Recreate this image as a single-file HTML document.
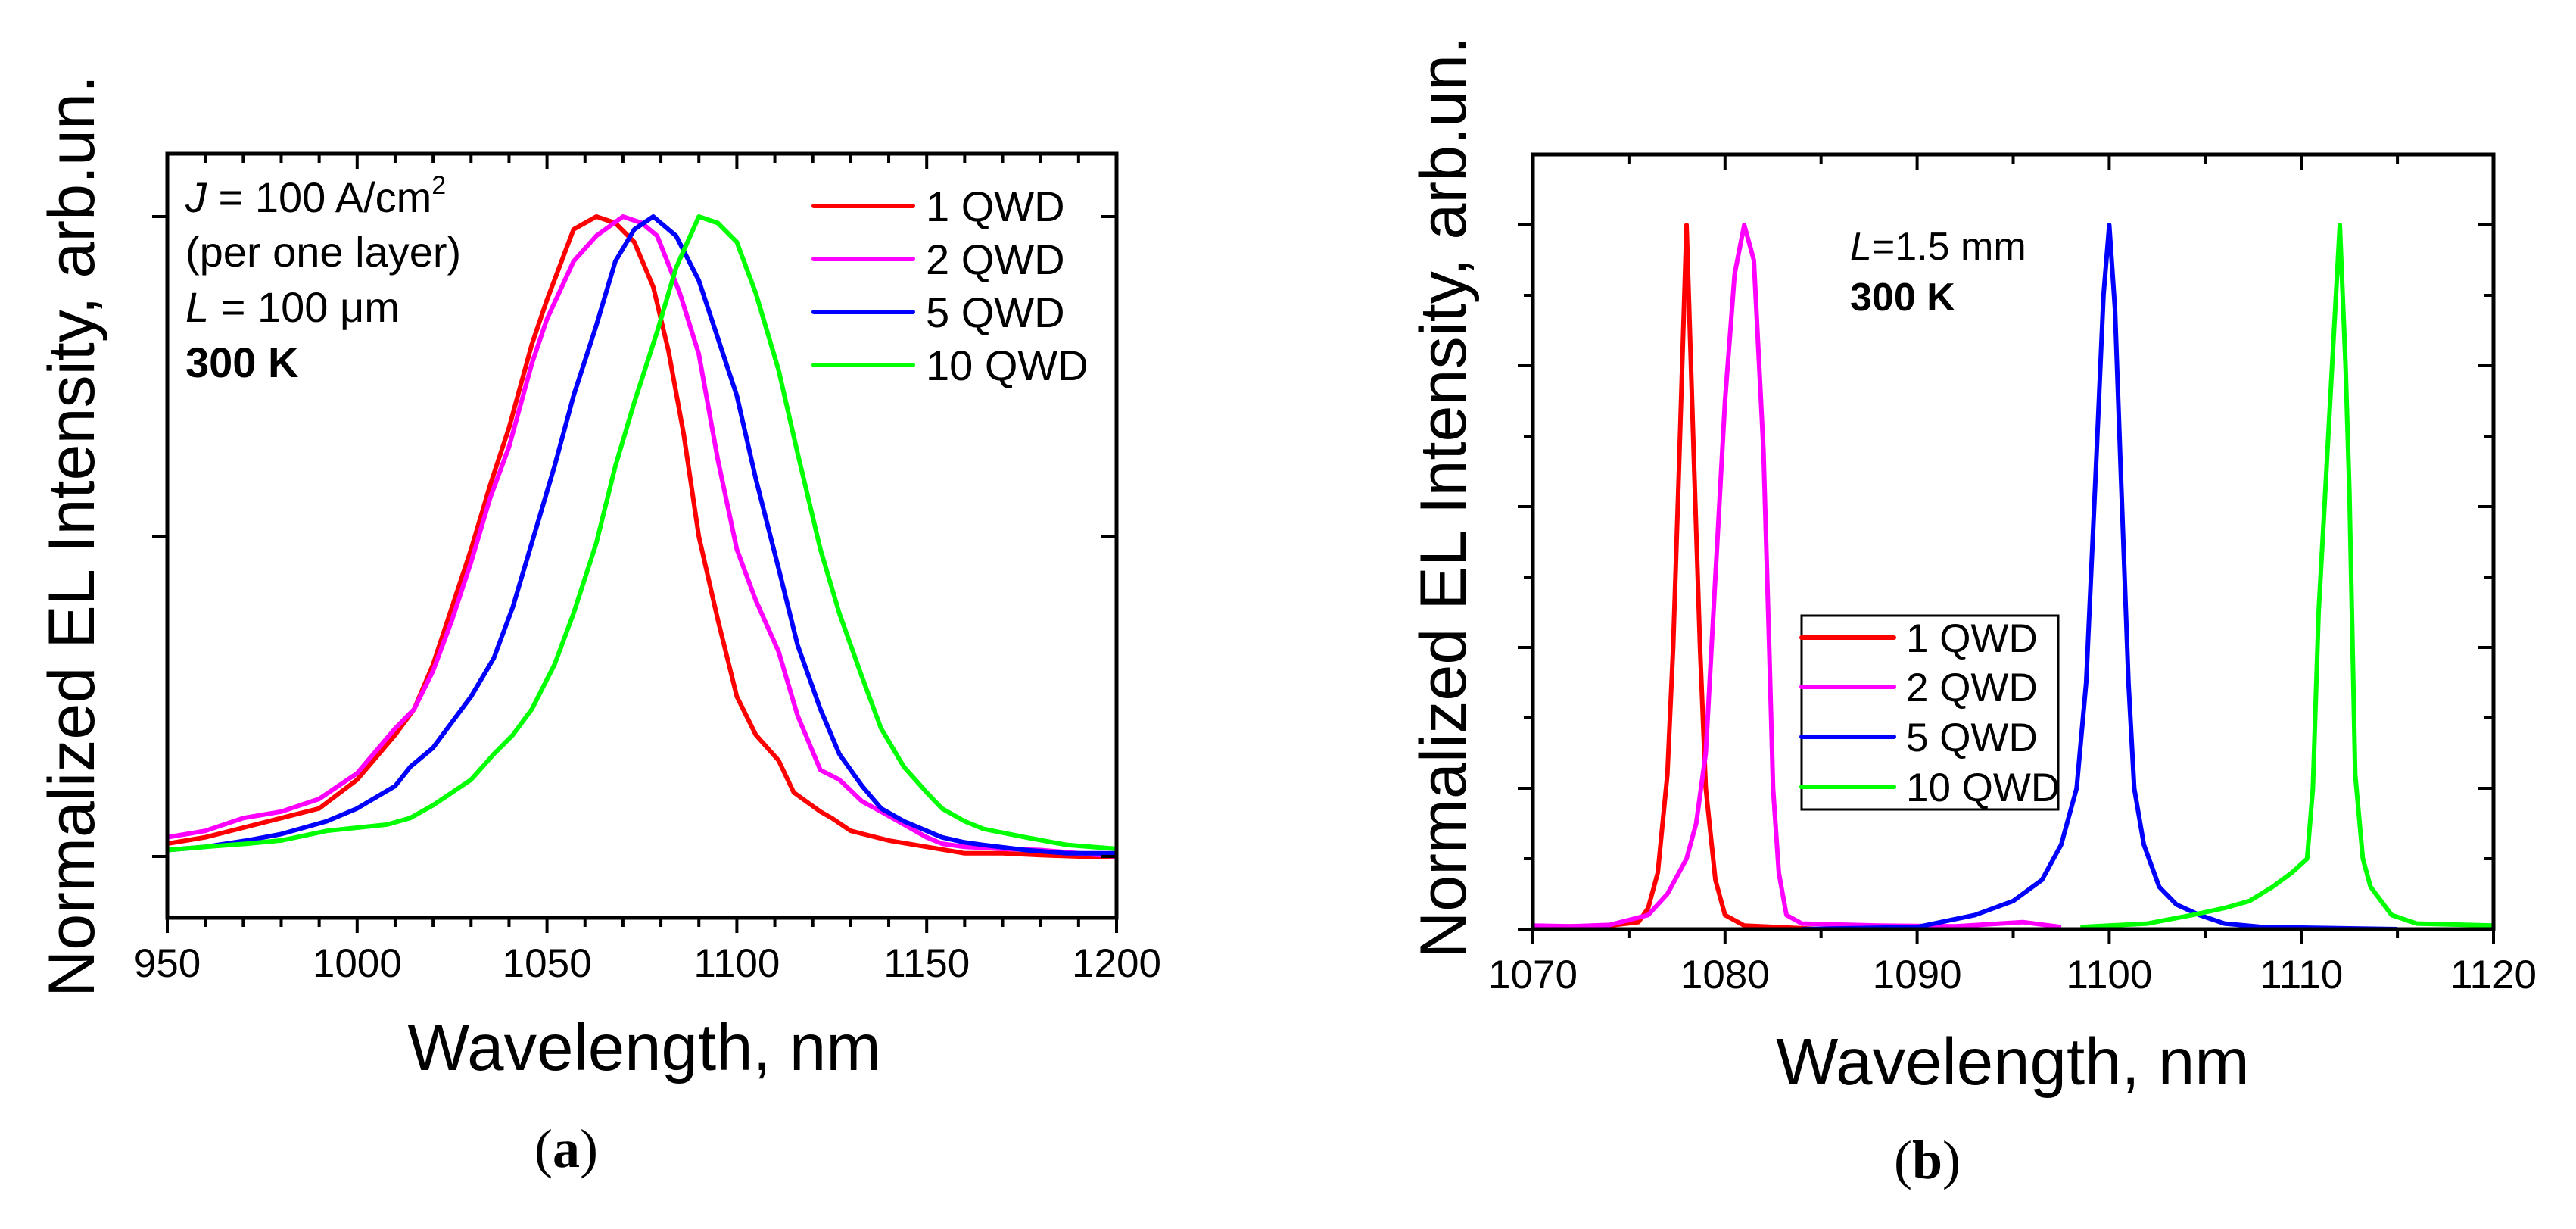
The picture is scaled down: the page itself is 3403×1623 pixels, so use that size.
<!DOCTYPE html>
<html><head><meta charset="utf-8"><style>
html,body{margin:0;padding:0;background:#fff}
svg{display:block}
text{font-family:"Liberation Sans",sans-serif;fill:#000}
</style></head><body>
<svg id="fig" width="3403" height="1623" viewBox="0 0 3403 1623" xmlns="http://www.w3.org/2000/svg">
<g id="pa"></g>
<g id="pb"></g>
</svg>
<script>
// ---------- Panel (a) data ----------
const aTicksX = [950, 1000, 1050, 1100, 1150, 1200];
const aSeriesNames = ["1 QWD", "2 QWD", "5 QWD", "10 QWD"];
const aRedX = [950,960,970,980,990,1000,1010,1015,1020,1025,1030,1035,1040,1046,1050,1057,1063,1068,1073,1078,1082,1086,1090,1095,1100,1105,1111,1115,1122,1125,1130,1140,1150,1160,1170,1180,1190,1200];
const aRedY = [0.02,0.03,0.045,0.06,0.075,0.12,0.19,0.23,0.30,0.39,0.48,0.58,0.67,0.80,0.87,0.98,1.0,0.99,0.96,0.89,0.79,0.66,0.50,0.37,0.25,0.19,0.15,0.10,0.07,0.06,0.04,0.025,0.015,0.005,0.005,0.002,0.0,0.0];
const aMagX = [950,960,970,980,990,1000,1010,1015,1020,1025,1030,1035,1040,1046,1050,1057,1063,1070,1075,1079,1085,1090,1095,1100,1105,1111,1116,1122,1127,1133,1138,1144,1150,1154,1160,1170,1180,1190,1200];
const aMagY = [0.03,0.04,0.06,0.07,0.09,0.13,0.20,0.23,0.29,0.37,0.46,0.56,0.64,0.77,0.84,0.93,0.97,1.0,0.99,0.97,0.88,0.785,0.62,0.48,0.40,0.32,0.22,0.135,0.12,0.086,0.07,0.05,0.03,0.02,0.015,0.012,0.01,0.005,0.0];
const aBluX = [950,960,971,980,992,1000,1010,1014,1020,1025,1030,1036,1041,1046,1052,1057,1063,1068,1073,1078,1084,1090,1095,1100,1105,1111,1116,1122,1127,1133,1138,1144,1150,1154,1160,1165,1176,1187,1200];
const aBluY = [0.01,0.015,0.025,0.035,0.055,0.075,0.11,0.14,0.17,0.21,0.25,0.31,0.39,0.49,0.61,0.72,0.83,0.93,0.98,1.0,0.97,0.9,0.81,0.72,0.59,0.45,0.33,0.23,0.16,0.11,0.075,0.055,0.04,0.03,0.022,0.018,0.01,0.005,0.005];
const aGrnX = [950,960,971,980,992,1000,1008,1014,1020,1025,1030,1036,1041,1046,1052,1057,1063,1068,1073,1079,1084,1090,1095,1100,1105,1111,1116,1122,1127,1133,1138,1144,1150,1154,1160,1165,1176,1187,1200];
const aGrnY = [0.01,0.015,0.02,0.025,0.04,0.045,0.05,0.06,0.08,0.1,0.12,0.16,0.19,0.23,0.30,0.38,0.49,0.61,0.71,0.82,0.92,1.0,0.99,0.96,0.88,0.76,0.63,0.48,0.38,0.28,0.2,0.14,0.1,0.075,0.055,0.043,0.03,0.018,0.012];

// ---------- Panel (b) data ----------
const bTicksX = [1070, 1080, 1090, 1100, 1110, 1120];
const bSeriesNames = ["1 QWD", "2 QWD", "5 QWD", "10 QWD"];
const bRedX = [1070,1074,1075.5,1076,1076.5,1077,1077.3,1077.6,1078,1078.4,1078.7,1079,1079.5,1080,1081,1085];
const bRedY = [0.003,0.005,0.01,0.03,0.08,0.22,0.4,0.65,1.0,0.65,0.4,0.2,0.07,0.02,0.005,0.0];
const bMagX = [1070,1072,1074,1076,1077,1078,1078.5,1079,1079.5,1080,1080.5,1081,1081.5,1082,1082.3,1082.5,1082.8,1083.2,1084,1088,1092,1095.5,1097.5];
const bMagY = [0.005,0.004,0.006,0.02,0.05,0.10,0.15,0.25,0.5,0.75,0.93,1.0,0.95,0.68,0.4,0.2,0.08,0.02,0.008,0.005,0.004,0.01,0.003];
const bBluX = [1084,1090,1093,1095,1096.5,1097.5,1098.3,1098.8,1099.3,1099.7,1100,1100.3,1100.6,1101,1101.3,1101.8,1102.6,1103.5,1104.7,1106,1108,1115];
const bBluY = [0.0,0.003,0.02,0.04,0.07,0.12,0.2,0.35,0.65,0.9,1.0,0.88,0.65,0.35,0.2,0.12,0.06,0.035,0.02,0.008,0.003,0.0];
const bGrnX = [1098.5,1102,1104.3,1106,1107.3,1108.5,1109.5,1110.3,1110.6,1110.9,1111.2,1111.6,1112,1112.3,1112.5,1112.8,1113.2,1113.6,1114.7,1116,1120];
const bGrnY = [0.003,0.008,0.02,0.03,0.04,0.06,0.08,0.1,0.2,0.45,0.6,0.8,1.0,0.8,0.62,0.22,0.1,0.06,0.02,0.008,0.005];

const NS = "http://www.w3.org/2000/svg";
const colors = ["#ff0000", "#ff00ff", "#0000ff", "#00ff00"];
function mk(parent, tag, attrs, txt) {
  const e = document.createElementNS(NS, tag);
  for (const k in attrs) e.setAttribute(k, attrs[k]);
  if (txt !== undefined) e.textContent = txt;
  parent.appendChild(e);
  return e;
}
function scale(d0, d1, r0, r1) { return v => r0 + (v - d0) * (r1 - r0) / (d1 - d0); }

function drawFrame(g, L, T, R, B, sx, sy, xMajor, xMinorStep, xMin, xMax, yMajor, yMinor) {
  const f = mk(g, "rect", {x: L, y: T, width: R - L, height: B - T, fill: "none", stroke: "#000", "stroke-width": 5});
  
  
  for (let v = xMin; v <= xMax + 1e-9; v += xMinorStep) {
    const x = sx(v);
    const major = xMajor.some(m => Math.abs(m - v) < 1e-6);
    const len = major ? 20 : 12;
    const t1 = mk(g, "line", {x1: x, x2: x, y1: B, y2: B + len, stroke: "#000", "stroke-width": 4});
    
    
    const t2 = mk(g, "line", {x1: x, x2: x, y1: T, y2: T + len, stroke: "#000", "stroke-width": 4});
    
    
  }
  xMajor.forEach(v => {
    const t = mk(g, "text", {x: sx(v), y: B + 78, "font-size": 53, "text-anchor": "middle"}, String(v));
    
    
  });
  yMajor.forEach(v => {
    const y = sy(v);
    const a = mk(g, "line", {x1: L - 20, x2: L, y1: y, y2: y, stroke: "#000", "stroke-width": 4});
    
    
    const b = mk(g, "line", {x1: R - 20, x2: R, y1: y, y2: y, stroke: "#000", "stroke-width": 4});
    
    
  });
  yMinor.forEach(v => {
    const y = sy(v);
    const a = mk(g, "line", {x1: L - 12, x2: L, y1: y, y2: y, stroke: "#000", "stroke-width": 4});
    
    
    const b = mk(g, "line", {x1: R - 12, x2: R, y1: y, y2: y, stroke: "#000", "stroke-width": 4});
    
    
  });
}
function drawSeries(g, xs, ys, sx, sy, color, name, clipId) {
  const d = xs.map((x, i) => (i ? "L" : "M") + sx(x).toFixed(1) + "," + sy(ys[i]).toFixed(1)).join(" ");
  const p = mk(g, "path", {d: d, fill: "none", stroke: color, "stroke-width": 6, "stroke-linejoin": "round", "clip-path": "url(#" + clipId + ")"});
  
  
}

// ----- Panel (a) -----
(function () {
  const g = document.getElementById("pa");
  const L = 221, R = 1475, T = 203, B = 1212;
  const sx = scale(950, 1200, L, R);
  const sy = scale(0, 1, 1131, 286);
  const defs = mk(g, "defs", {});
  const cp = mk(defs, "clipPath", {id: "clipA"});
  mk(cp, "rect", {x: L, y: T, width: R - L, height: B - T});
  const series = [[aRedX, aRedY], [aMagX, aMagY], [aBluX, aBluY], [aGrnX, aGrnY]];
  ["series-1-qwd", "series-2-qwd", "series-5-qwd", "series-10-qwd"].forEach((n, i) => {
    drawSeries(g, series[i][0], series[i][1], sx, sy, colors[i], n, "clipA");
  });
  drawFrame(g, L, T, R, B, sx, sy, aTicksX, 10, 950, 1200, [0, 0.5, 1], []);
  const ly = [272, 342, 412, 482];
  aSeriesNames.forEach((n, i) => {
    const l = mk(g, "line", {x1: 1075, x2: 1206, y1: ly[i], y2: ly[i], stroke: colors[i], "stroke-width": 6, "stroke-linecap": "round"});
    
    
    const t = mk(g, "text", {x: 1223, y: ly[i] + 20, "font-size": 56}, n);
    
    
  });
})();

// ----- Panel (b) -----
(function () {
  const g = document.getElementById("pb");
  const L = 2025, R = 3294, T = 204, B = 1227;
  const sx = scale(1070, 1120, L, R);
  const sy = scale(0, 1, B, 297);
  const defs = mk(g, "defs", {});
  const cp = mk(defs, "clipPath", {id: "clipB"});
  mk(cp, "rect", {x: L, y: T, width: R - L, height: B - T});
  const series = [[bRedX, bRedY], [bMagX, bMagY], [bBluX, bBluY], [bGrnX, bGrnY]];
  ["series-1-qwd", "series-2-qwd", "series-5-qwd", "series-10-qwd"].forEach((n, i) => {
    drawSeries(g, series[i][0], series[i][1], sx, sy, colors[i], n, "clipB");
  });
  drawFrame(g, L, T, R, B, sx, sy, bTicksX, 5, 1070, 1120, [0, 0.2, 0.4, 0.6, 0.8, 1.0], [0.1, 0.3, 0.5, 0.7, 0.9]);
  const box = mk(g, "rect", {x: 2380, y: 813, width: 339, height: 256, fill: "none", stroke: "#000", "stroke-width": 3});
  
  
  const ly = [842, 907, 973, 1039];
  bSeriesNames.forEach((n, i) => {
    const l = mk(g, "line", {x1: 2380, x2: 2502, y1: ly[i], y2: ly[i], stroke: colors[i], "stroke-width": 6, "stroke-linecap": "round"});
    
    
    const t = mk(g, "text", {x: 2518, y: ly[i] + 19, "font-size": 53}, n);
    
    
  });
})();
</script>
<svg style="position:absolute;left:0;top:0" width="3403" height="1623" xmlns="http://www.w3.org/2000/svg">
  <g>
    <text x="245" y="280" font-size="56"><tspan font-style="italic">J</tspan> = 100 A/cm<tspan font-size="34" dy="-24">2</tspan></text>
    <text x="245" y="352" font-size="56">(per one layer)</text>
    <text x="245" y="425" font-size="56"><tspan font-style="italic">L</tspan> = 100 μm</text>
    <text x="245" y="498" font-size="56" font-weight="bold">300 K</text>
  </g>
  <text transform="translate(124,708) rotate(-90)" text-anchor="middle" font-size="86" textLength="1218" lengthAdjust="spacingAndGlyphs">Normalized EL Intensity, arb.un.</text>
  <text x="851" y="1413" text-anchor="middle" font-size="87">Wavelength, nm</text>
  <text x="748" y="1541" text-anchor="middle" font-size="72" style="font-family:'Liberation Serif',serif">(<tspan font-weight="bold">a</tspan>)</text>

  <g>
    <text x="2444" y="343" font-size="52"><tspan font-style="italic">L</tspan>=1.5 mm</text>
    <text x="2444" y="410" font-size="52" font-weight="bold">300 K</text>
  </g>
  <text transform="translate(1936,657) rotate(-90)" text-anchor="middle" font-size="86" textLength="1218" lengthAdjust="spacingAndGlyphs">Normalized EL Intensity, arb.un.</text>
  <text x="2659" y="1432" text-anchor="middle" font-size="87">Wavelength, nm</text>
  <text x="2546" y="1556" text-anchor="middle" font-size="72" style="font-family:'Liberation Serif',serif">(<tspan font-weight="bold">b</tspan>)</text>
</svg>
</body></html>
